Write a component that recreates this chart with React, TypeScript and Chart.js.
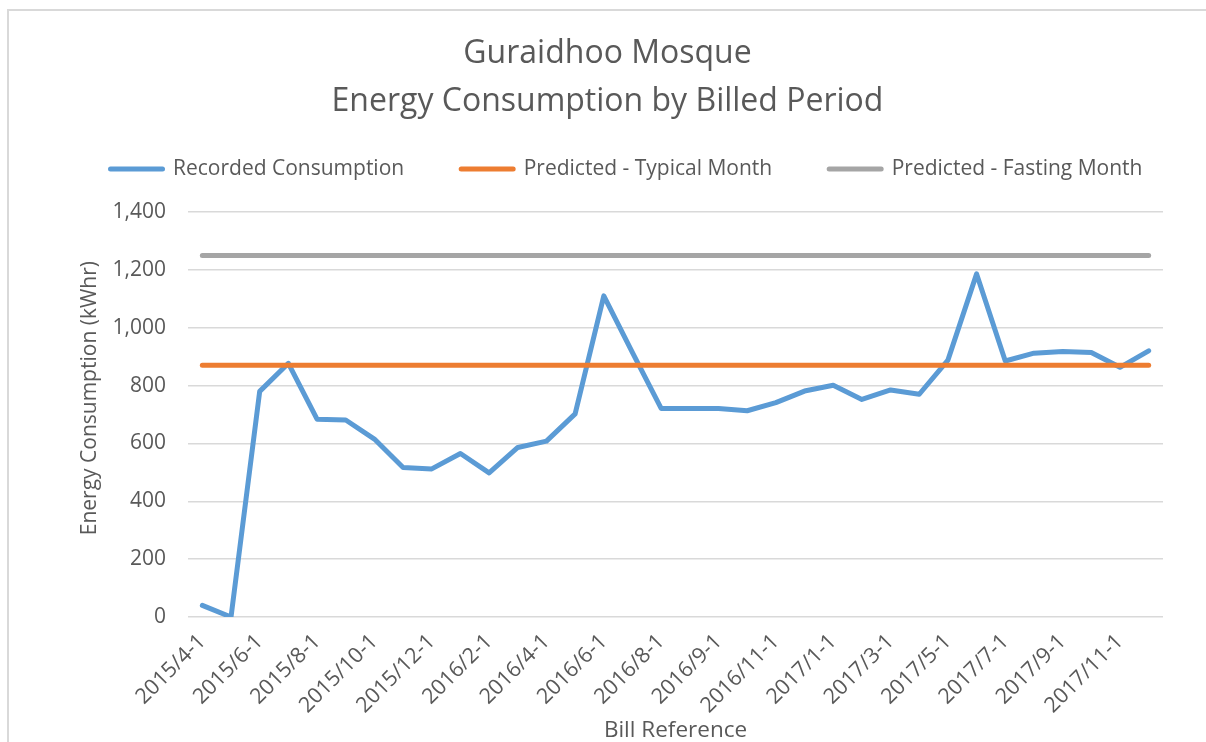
import React, { useEffect, useRef } from 'react';
import { Chart, registerables } from 'chart.js';

Chart.register(...registerables);

const titleLines = ['Guraidhoo Mosque', 'Energy Consumption by Billed Period'];

const billDates = [
  '2015/4-1', '2015/5-1', '2015/6-1', '2015/7-1', '2015/8-1', '2015/9-1',
  '2015/10-1', '2015/11-1', '2015/12-1', '2016/1-1', '2016/2-1', '2016/3-1',
  '2016/4-1', '2016/5-1', '2016/6-1', '2016/7-1', '2016/8-1', '2016/8-15',
  '2016/9-1', '2016/10-1', '2016/11-1', '2016/12-1', '2017/1-1', '2017/2-1',
  '2017/3-1', '2017/4-1', '2017/5-1', '2017/6-1', '2017/7-1', '2017/8-1',
  '2017/9-1', '2017/10-1', '2017/11-1', '2017/12-1',
];

const recordedConsumption = [
  40, 0, 780, 877, 684, 681, 615, 517, 512, 565, 498, 586,
  608, 702, 1110, 914, 721, 721, 721, 713, 741, 781, 801, 752,
  785, 770, 888, 1186, 885, 912, 918, 914, 863, 920,
];

const predictedTypical = [
  870, 870, 870, 870, 870, 870, 870, 870, 870, 870, 870, 870,
  870, 870, 870, 870, 870, 870, 870, 870, 870, 870, 870, 870,
  870, 870, 870, 870, 870, 870, 870, 870, 870, 870,
];

const predictedFasting = [
  1250, 1250, 1250, 1250, 1250, 1250, 1250, 1250, 1250, 1250, 1250, 1250,
  1250, 1250, 1250, 1250, 1250, 1250, 1250, 1250, 1250, 1250, 1250, 1250,
  1250, 1250, 1250, 1250, 1250, 1250, 1250, 1250, 1250, 1250,
];

const seriesNames = ['Recorded Consumption', 'Predicted - Typical Month', 'Predicted - Fasting Month'];
const seriesColors = ['#5B9BD5', '#ED7D31', '#A5A5A5'];

const yTitle = '      Energy Consumption (kWhr)';
const xTitle = 'Bill Reference';

const yMin = 0;
const yMax = 1400;
const yStep = 200;

const textColor = '#595959';
const gridColor = '#d9d9d9';

// shifts the (start-aligned) legend so it sits where the original one does
const legendShift = {
  id: 'legendShift',
  afterLayout(chart: any) {
    if (chart.legend) {
      const w = chart.legend.width;
      chart.legend.left = 44.5;
      chart.legend.right = 44.5 + w;
    }
  },
};

export default function App() {
  const canvasRef = useRef<HTMLCanvasElement>(null);

  useEffect(() => {
    const canvas = canvasRef.current;
    if (!canvas) return;
    Chart.defaults.font.family = "'Open Sans', sans-serif";
    Chart.defaults.color = textColor;

    const seriesData = [recordedConsumption, predictedTypical, predictedFasting];
    const datasets = seriesNames.map((name, i) => ({
      label: name,
      data: seriesData[i],
      borderColor: seriesColors[i],
      backgroundColor: seriesColors[i],
      borderWidth: 5,
      borderCapStyle: 'round' as const,
      borderJoinStyle: 'round' as const,
      pointRadius: 0,
      pointHoverRadius: 0,
      tension: 0,
      fill: false,
      order: 3 - i,
      yAxisID: 'y',
    }));

    const chart = new Chart(canvas, {
      type: 'line',
      data: { labels: billDates, datasets },
      plugins: [legendShift],
      options: {
        responsive: false,
        animation: false,
        events: [],
        layout: { padding: 0 },
        plugins: {
          title: {
            display: true,
            text: titleLines,
            color: textColor,
            font: { size: 32, weight: 'normal', lineHeight: 1.5 },
            padding: { top: 19, bottom: -24.5 },
          },
          legend: {
            display: true,
            position: 'top',
            align: 'start',
            labels: {
              usePointStyle: true,
              pointStyle: 'line',
              pointStyleWidth: 52,
              padding: 57,
              color: textColor,
              font: { size: 21 },
              generateLabels: () =>
                seriesNames.map((name, i) => ({
                  text: name,
                  fillStyle: seriesColors[i],
                  strokeStyle: seriesColors[i],
                  lineWidth: 5,
                  lineCap: 'round',
                  pointStyle: 'line',
                  hidden: false,
                  datasetIndex: i,
                  fontColor: textColor,
                })),
            },
          },
          subtitle: {
            display: true,
            text: '',
            weight: 500,
            font: { size: 1, lineHeight: 1 },
            padding: { top: 21.5, bottom: 0 },
          },
          tooltip: { enabled: false },
        },
        scales: {
          x: {
            offset: true,
            grid: { display: false, drawTicks: false },
            border: { display: false },
            ticks: {
              autoSkip: false,
              maxRotation: 45,
              minRotation: 45,
              padding: 12,
              color: textColor,
              font: { size: 21.5 },
              callback: (_v: any, index: number) => (index % 2 === 0 ? billDates[index] : ''),
            },
            title: {
              display: true,
              text: xTitle,
              color: textColor,
              font: { size: 22.5 },
              padding: { top: 0, bottom: -2 },
            },
            afterFit: (s: any) => {
              s.height = 125;
            },
          },
          y: {
            min: yMin,
            max: yMax,
            ticks: {
              stepSize: yStep,
              padding: 22,
              color: textColor,
              font: { size: 21 },
              callback: (v: any) => Number(v).toLocaleString('en-US'),
            },
            grid: { color: gridColor, lineWidth: 1.5, drawTicks: false },
            border: { display: false },
            title: {
              display: true,
              text: yTitle,
              color: textColor,
              font: { size: 21 },
              padding: { top: 68, bottom: 0 },
            },
            afterFit: (s: any) => {
              s.width = 179;
            },
          },
          yRightMargin: {
            position: 'right',
            display: true,
            grid: { display: false, drawTicks: false },
            border: { display: false },
            ticks: { display: false },
            afterFit: (s: any) => {
              s.width = 43;
            },
          },
        },
      },
    } as any);

    return () => chart.destroy();
  }, []);

  return (
    <div
      style={{
        position: 'fixed',
        left: 7,
        top: 9,
        width: 1199,
        height: 733,
        boxSizing: 'border-box',
        borderLeft: `2px solid ${gridColor}`,
        borderTop: `2px solid ${gridColor}`,
        background: '#ffffff',
        overflow: 'hidden',
      }}
    >
      <canvas ref={canvasRef} width={1197} height={731} style={{ display: 'block' }} />
    </div>
  );
}
